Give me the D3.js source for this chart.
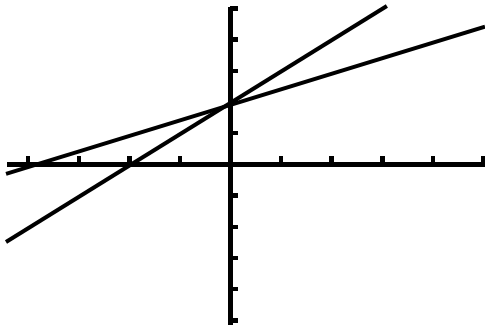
<!DOCTYPE html>
<html lang="en">
<head>
<meta charset="UTF-8">
<title>Two lines on a calculator screen</title>
<script src="https://d3js.org/d3.v7.min.js"></script>
<style>
  body { margin: 0; background: #fff; }
  .axis path, .axis line { stroke: #000; stroke-width: 4.5; shape-rendering: crispEdges; }
  .axis text { display: none; }
  .graph { fill: none; stroke: #000; stroke-width: 4; }
</style>
</head>
<body>
<div id="chart"></div>
<script>
// window of the screen
const xWindow = [-4.43, 5.04];
const yWindow = [-5.13, 5.06];

// tick marks every unit
const xTicks = [-4, -3, -2, -1, 1, 2, 3, 4, 5];
const yTicks = [-5, -4, -3, -2, -1, 1, 2, 3, 4, 5];

// end points of the two graphed lines
const lineA = [[-4.43, -0.32], [5.04, 4.4]];    // shallow line
const lineB = [[-4.43, -2.5], [3.1, 5.06]];     // steep line

const width = 485, height = 328;

const svg = d3.select("#chart")
  .append("svg")
  .attr("width", width)
  .attr("height", height);

const x = d3.scaleLinear().domain(xWindow).range([6, 485]);
const y = d3.scaleLinear().domain(yWindow).range([324, 6]);

// x axis, ticks pointing up
svg.append("g")
  .attr("class", "axis")
  .attr("transform", `translate(0,${y(0)})`)
  .call(d3.axisBottom(x).tickValues(xTicks).tickSizeInner(-7.5).tickSizeOuter(0).tickFormat(""));

// y axis, ticks pointing right
svg.append("g")
  .attr("class", "axis")
  .attr("transform", `translate(${x(0)},0)`)
  .call(d3.axisRight(y).tickValues(yTicks).tickSizeInner(8).tickSizeOuter(0).tickFormat(""));

const line = d3.line().x(d => x(d[0])).y(d => y(d[1]));

svg.selectAll("path.graph")
  .data([lineA, lineB])
  .enter()
  .append("path")
  .attr("class", "graph")
  .attr("d", line);
</script>
</body>
</html>
